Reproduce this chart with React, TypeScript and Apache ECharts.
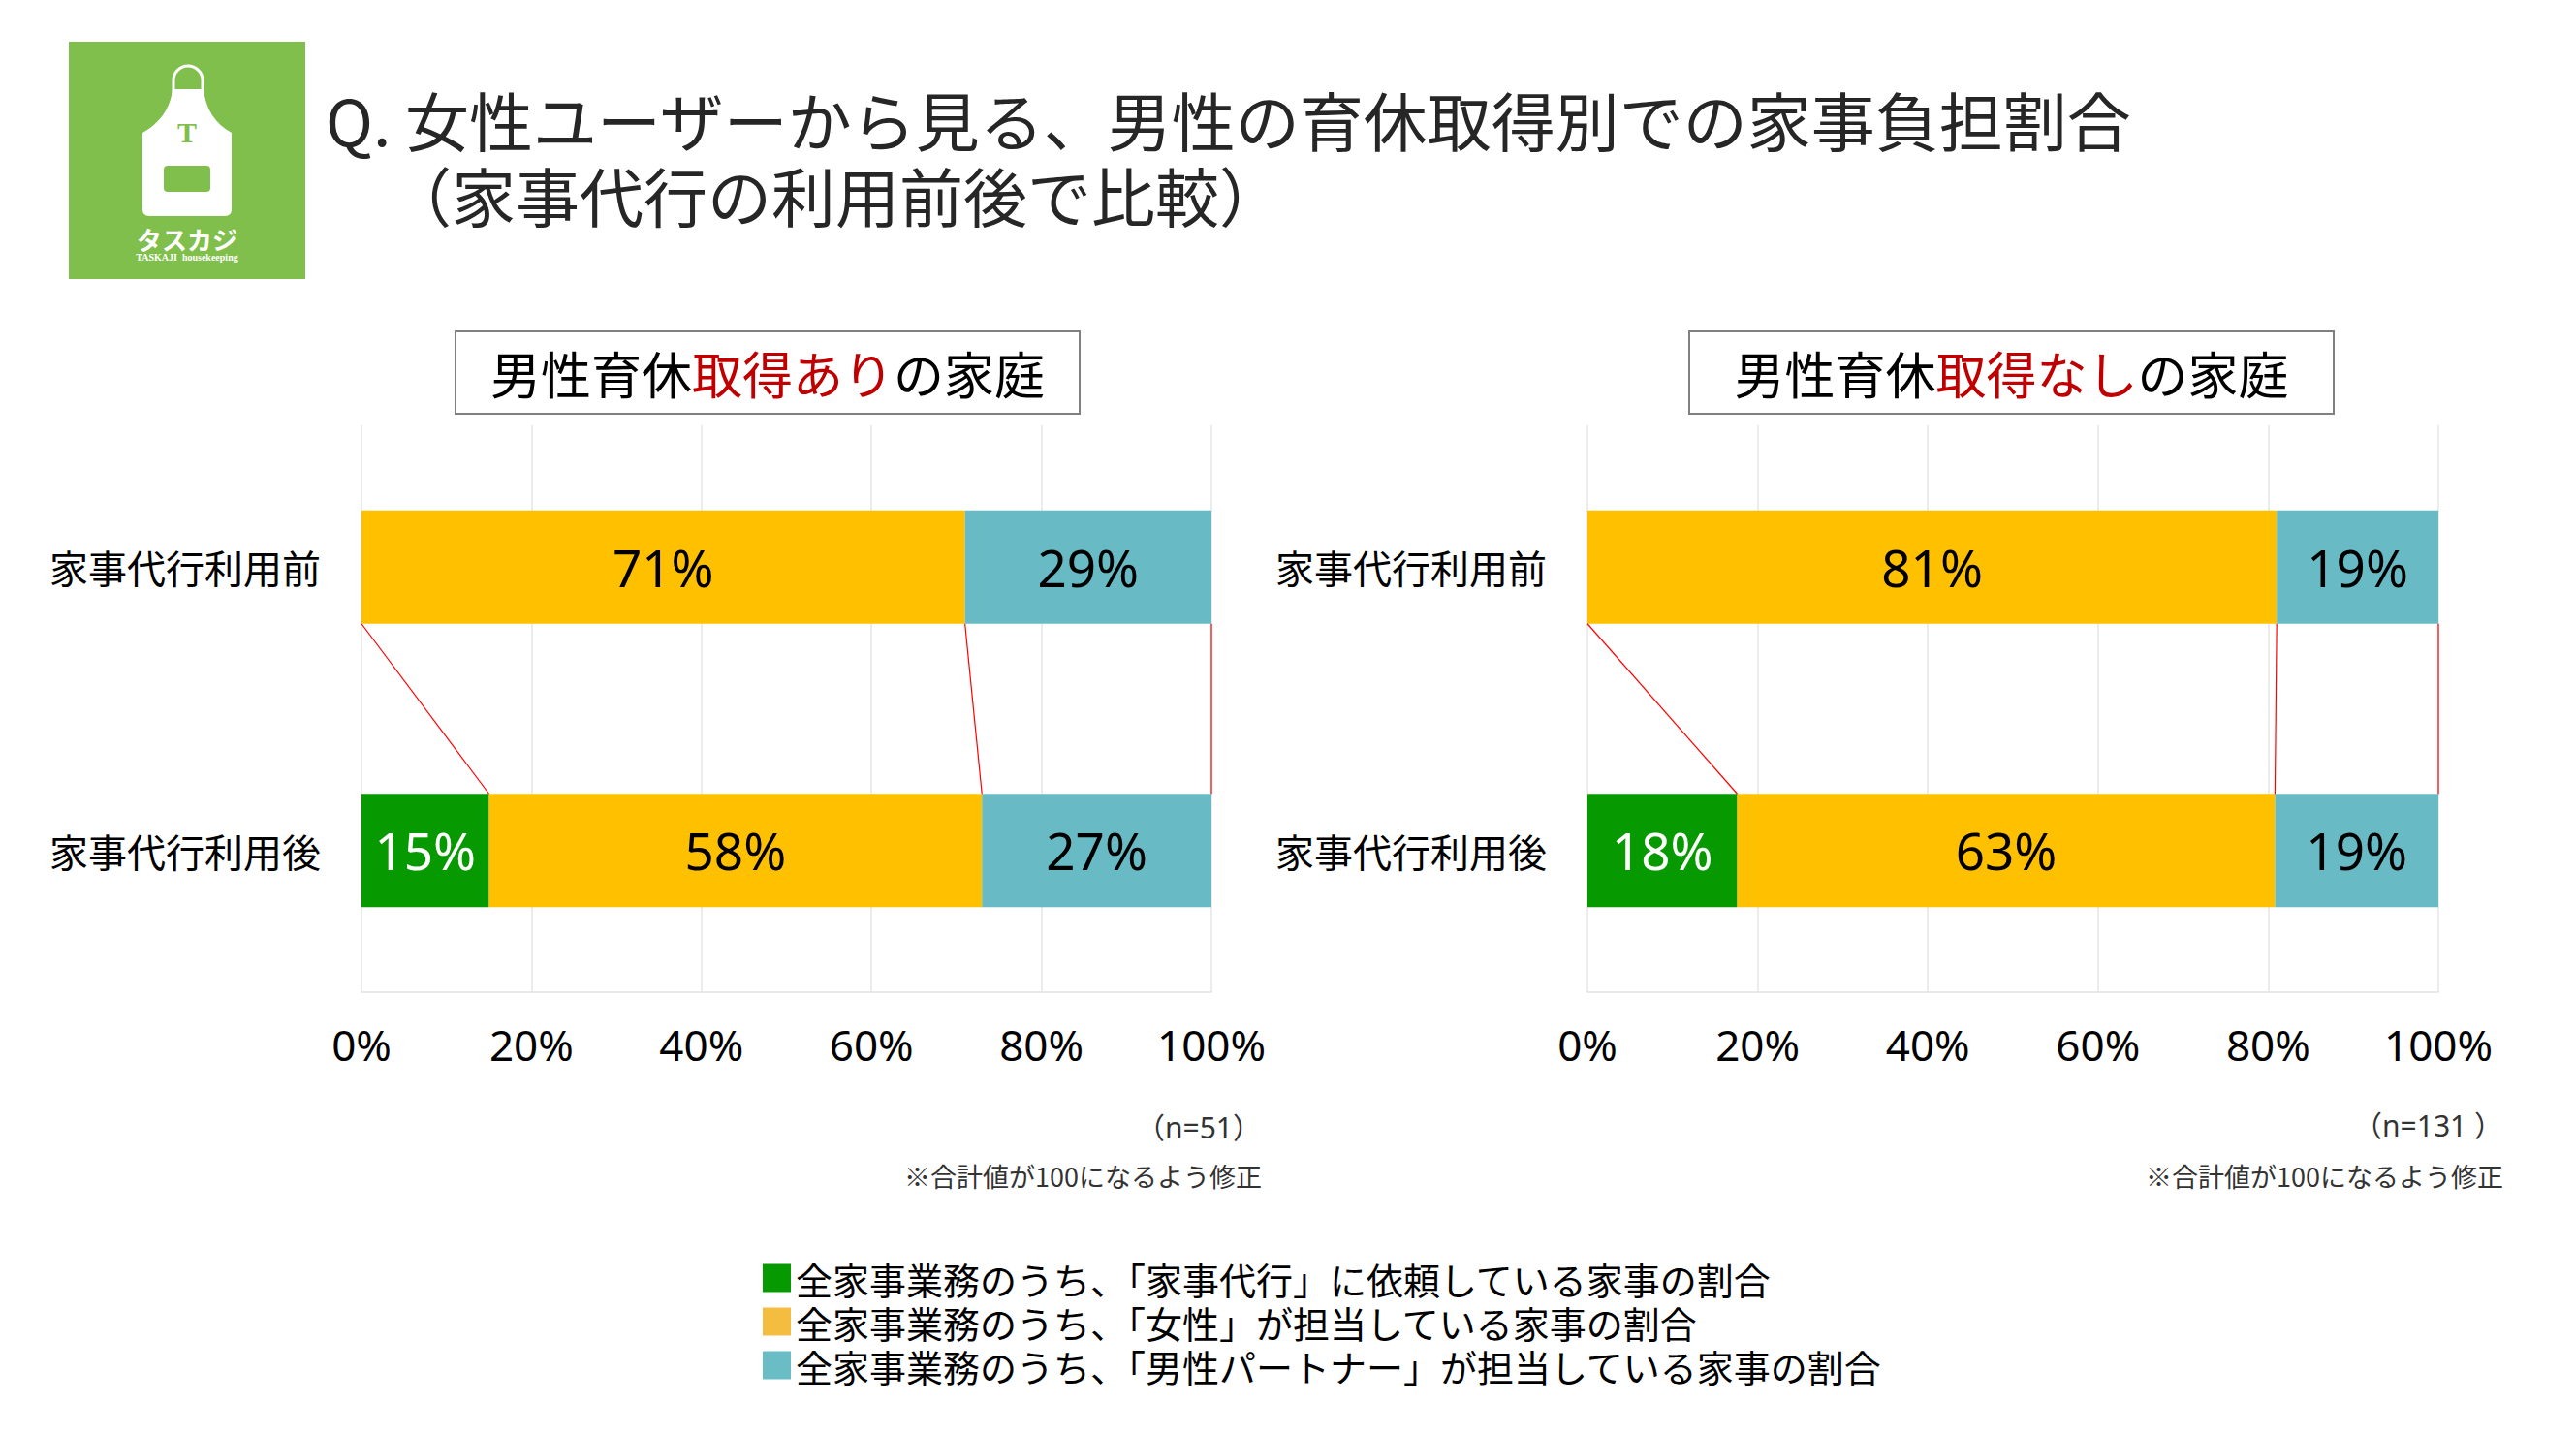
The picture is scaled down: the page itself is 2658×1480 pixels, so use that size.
import React, { useEffect, useRef } from "react";
import * as echarts from "echarts";

// カテゴリ（上が利用前、下が利用後）
const categories = ["家事代行利用前", "家事代行利用後"];

// 男性育休取得ありの家庭 (n=51)
const withLeaveAgency = [0, 15];
const withLeaveWoman = [71, 58];
const withLeavePartner = [29, 27];

// 男性育休取得なしの家庭 (n=131)
const withoutLeaveAgency = [0, 17.6];
const withoutLeaveWoman = [81, 63.2];
const withoutLeavePartner = [19, 19.2];

const seriesNames = [
    "全家事業務のうち、「家事代行」に依頼している家事の割合",
    "全家事業務のうち、「女性」が担当している家事の割合",
    "全家事業務のうち、「男性パートナー」が担当している家事の割合",
];
const barColors = ["#079a00", "#ffc000", "#68bbc4"];
const legendColors = ["#079a00", "#f4bd3f", "#6abcc5"];

const FONT_JP = "'Noto Sans CJK JP', sans-serif";
const FONT_NUM = "'Noto Sans', 'Noto Sans CJK JP', sans-serif";

const APRON_D =
    "M178 92 L210 92 C212 112 222 128 239 137 L239 216 Q239 223 232 223 L154 223 Q147 223 147 216 L147 137 C164 128 176 112 178 92 Z";

echarts.graphic.registerShape("apron", echarts.graphic.extendPath(APRON_D, {}));

// 各カテゴリの区切り位置（累積）
const bounds = (a: number[], w: number[], p: number[], i: number) => [a[i], a[i] + w[i], a[i] + w[i] + p[i]];

const makeSeries = (idx: number, agency: number[], woman: number[], partner: number[]) => {
    const stack = "s" + idx;
    const values = [agency, woman, partner];
    const bars = values.map((data, k) => ({
        name: seriesNames[k],
        type: "bar",
        stack,
        xAxisIndex: idx,
        yAxisIndex: idx,
        barWidth: "40%",
        data,
        itemStyle: { color: barColors[k] },
        label: {
            show: true,
            position: "inside",
            color: k === 0 ? "#fff" : "#000",
            fontSize: 53,
            fontFamily: FONT_NUM,
            formatter: (p: any) => (p.value > 0 ? Math.round(p.value) + "%" : ""),
        },
    }));
    const b0 = bounds(agency, woman, partner, 0);
    const b1 = bounds(agency, woman, partner, 1);
    // 利用前→利用後をつなぐ赤い区分線
    const connectors = {
        type: "custom",
        xAxisIndex: idx,
        yAxisIndex: idx,
        z: 3,
        silent: true,
        encode: { x: 0, y: 1 },
        data: b0.map((v, k) => [v, 0, b1[k]]),
        renderItem: (params: any, api: any) => {
            const top = api.coord([api.value(0), 0]);
            const bot = api.coord([api.value(2), 1]);
            const half = api.size([0, 1])[1] * 0.2;
            return {
                type: "line",
                shape: { x1: top[0], y1: top[1] + half, x2: bot[0], y2: bot[1] - half },
                style: { stroke: "#ff0000", lineWidth: 1.2 },
            };
        },
    };
    return [...bars, connectors];
};

const xAxisOf = (idx: number) => ({
    type: "value",
    gridIndex: idx,
    min: 0,
    max: 100,
    interval: 20,
    axisLine: { show: true, lineStyle: { color: "#e2e2e2", width: 1.5 } },
    axisTick: { show: false },
    axisLabel: { formatter: "{value}%", fontSize: 44, margin: 32, color: "#000", fontFamily: FONT_NUM },
    splitLine: { lineStyle: { color: "#e6e6e6", width: 1.5 } },
});

const yAxisOf = (idx: number) => ({
    type: "category",
    gridIndex: idx,
    inverse: true,
    data: categories,
    axisLine: { show: false },
    axisTick: { show: false },
    axisLabel: { fontSize: 40, margin: 42, color: "#000", fontFamily: FONT_JP },
});

const boxTitle = (x: number, w: number, red: string) => [
    {
        type: "rect",
        shape: { x, y: 342, width: w, height: 85 },
        style: { fill: "#fff", stroke: "#808080", lineWidth: 2 },
    },
    {
        type: "text",
        x: x + w / 2,
        y: 384,
        style: {
            text: "{a|男性育休}{r|" + red + "}{a|の家庭}",
            align: "center",
            verticalAlign: "middle",
            rich: {
                a: { fontSize: 52, fontFamily: FONT_JP, fill: "#000" },
                r: { fontSize: 52, fontFamily: FONT_JP, fill: "#c00000" },
            },
        },
    },
];

const note = (x: number, y: number, text: string, size: number, family: string) => ({
    type: "text",
    x,
    y,
    style: { text, fontSize: size, lineHeight: size, fontFamily: family, fill: "#333", align: "right", verticalAlign: "middle" },
});

const titleLine = (x: number, y: number, text: string) => ({
    type: "text",
    x,
    y,
    style: { text, fontSize: 66, lineHeight: 70, fontFamily: FONT_JP, fill: "#262626", verticalAlign: "middle" },
});

const App = () => {
    const chartRef = useRef<HTMLDivElement>(null);

    useEffect(() => {
        document.body.style.margin = "0";
        const chart = echarts.init(chartRef.current, null, { renderer: "svg" });

        const option = {
            animation: false,
            backgroundColor: "#fff",
            grid: [
                { left: 373, top: 439, width: 877, height: 585 },
                { left: 1638, top: 439, width: 878, height: 585 },
            ],
            xAxis: [xAxisOf(0), xAxisOf(1)],
            yAxis: [yAxisOf(0), yAxisOf(1)],
            legend: {
                orient: "vertical",
                left: 787,
                top: 1300,
                padding: 0,
                itemWidth: 29,
                itemHeight: 29,
                itemGap: 7,
                icon: "rect",
                selectedMode: false,
                textStyle: { fontSize: 38, lineHeight: 38, color: "#000", fontFamily: FONT_JP },
                data: seriesNames.map((name, i) => ({ name, itemStyle: { color: legendColors[i] } })),
            },
            series: [
                ...makeSeries(0, withLeaveAgency, withLeaveWoman, withLeavePartner),
                ...makeSeries(1, withoutLeaveAgency, withoutLeaveWoman, withoutLeavePartner),
            ],
            graphic: [
                // ロゴ
                { type: "rect", shape: { x: 71, y: 43, width: 244, height: 245 }, style: { fill: "#80bf4b" } },
                {
                    type: "rect",
                    shape: { x: 179, y: 68, width: 30, height: 36, r: [15, 15, 0, 0] },
                    style: { fill: "none", stroke: "#fff", lineWidth: 3 },
                },
                { type: "apron", x: 0, y: 0, style: { fill: "#fff" } },
                {
                    type: "text",
                    x: 193,
                    y: 136,
                    style: {
                        text: "T",
                        fontSize: 30,
                        fontWeight: "bold",
                        fontFamily: "'Liberation Serif', serif",
                        fill: "#80bf4b",
                        align: "center",
                        verticalAlign: "middle",
                    },
                },
                {
                    type: "rect",
                    shape: { x: 169, y: 171, width: 48, height: 27, r: 4 },
                    style: { fill: "#80bf4b" },
                },
                {
                    type: "text",
                    x: 193,
                    y: 246,
                    style: {
                        text: "タスカジ",
                        fontSize: 26,
                        fontWeight: "bold",
                        fontFamily: FONT_JP,
                        fill: "#fff",
                        align: "center",
                        verticalAlign: "middle",
                    },
                },
                {
                    type: "text",
                    x: 193,
                    y: 265,
                    style: {
                        text: "TASKAJI  housekeeping",
                        fontSize: 10,
                        fontWeight: "bold",
                        fontFamily: "'Liberation Serif', serif",
                        fill: "#fff",
                        align: "center",
                        verticalAlign: "middle",
                    },
                },
                // タイトル
                titleLine(336, 122, "Q. 女性ユーザーから見る、男性の育休取得別での家事負担割合"),
                titleLine(400, 200, "（家事代行の利用前後で比較）"),
                ...boxTitle(470, 644, "取得あり"),
                ...boxTitle(1743, 665, "取得なし"),
                // 注記
                note(1302, 1163, "（n=51）", 30, FONT_NUM),
                note(1302, 1213, "※合計値が100になるよう修正", 27, FONT_JP),
                note(2583, 1161, "（n=131 ）", 30, FONT_NUM),
                note(2583, 1213, "※合計値が100になるよう修正", 27, FONT_JP),
            ],
        };

        chart.setOption(option);

        return () => {
            chart.dispose();
        };
    }, []);

    return <div ref={chartRef} style={{ width: 2658, height: 1480 }} />;
};

export default App;
